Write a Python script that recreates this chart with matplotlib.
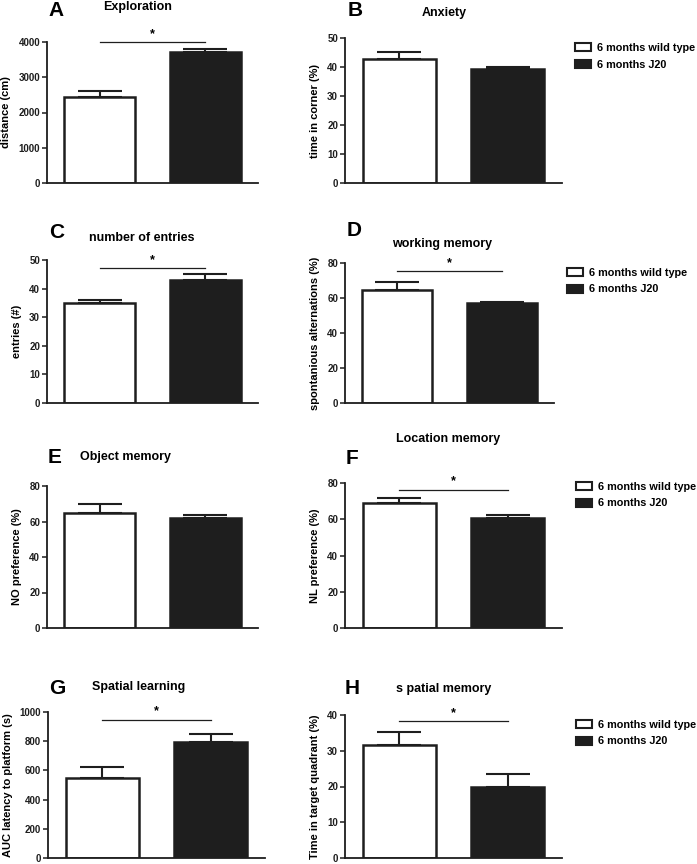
import matplotlib
matplotlib.use("Agg")
import matplotlib.pyplot as plt
from matplotlib.patches import Patch

plt.rcParams['font.family'] = ['Liberation Sans', 'DejaVu Sans']
plt.rcParams['font.weight'] = 'bold'

# ---------------- data ----------------
groups = ['6 months wild type', '6 months J20']
letters = ['A', 'B', 'C', 'D', 'E', 'F', 'G', 'H']
titles = ['Exploration', 'Anxiety', 'number of entries', 'working memory',
          'Object memory', 'Location memory', 'Spatial learning', 's patial memory']
ylabels = ['distance (cm)', 'time in corner (%)', 'entries (#)',
           'spontanious alternations (%)', 'NO preference (%)', 'NL preference (%)',
           'AUC latency to platform (s)', 'Time in target quadrant (%)']
mean_wt = [2440, 42.7, 35.1, 64.5, 64.9, 68.9, 548, 31.6]
mean_j20 = [3716, 39.3, 43.0, 56.9, 62.0, 60.6, 792, 19.8]
sem_wt = [170, 2.4, 0.8, 4.7, 4.7, 2.8, 72, 3.7]
sem_j20 = [77, 0.8, 2.1, 0.7, 1.6, 1.7, 59, 3.6]
ymax = [4000, 50, 50, 80, 80, 80, 1000, 40]
ystep = [1000, 10, 10, 20, 20, 20, 200, 10]
sig_level = [4000, None, 47.1, 75.4, None, 76.3, 947, 38.3]

W, H = 697, 864
fig = plt.figure(figsize=(W / 100, H / 100), dpi=100)

# axes boxes in pixels: left, top, right, bottom
boxes = [(47, 42, 258, 183), (345, 38, 562, 183),
         (47, 260, 258, 403), (345, 263, 554, 403),
         (47, 486, 258, 628), (345, 483, 562, 628),
         (48, 712, 265, 858), (345, 715, 562, 858)]
letter_pos = [(56, 10), (355, 10), (57, 232), (354, 231),
              (55, 457), (352, 458), (57, 689), (352, 689)]
title_pos = [(138, 7), (444, 13), (142, 238), (442, 244),
             (125, 457), (448, 439), (139, 687), (444, 689)]
legend_pos = [(575, 43), (567, 268), (576, 482), (576, 720)]

black = '#1e1e1e'
for i in range(8):
    l, t, r, b = boxes[i]
    ax = fig.add_axes([l / W, 1 - b / H, (r - l) / W, (b - t) / H])
    x = [0, 1]
    ax.bar(x, [mean_wt[i], mean_j20[i]], width=0.67,
           color=['white', black], edgecolor=black, linewidth=1.8, zorder=2)
    ax.errorbar(x, [mean_wt[i], mean_j20[i]],
                yerr=[[0, 0], [sem_wt[i], sem_j20[i]]],
                fmt='none', ecolor=black, elinewidth=1.5, capsize=16,
                capthick=1.5, zorder=1)
    ax.set_xlim(-0.5, 1.5)
    ax.set_ylim(0, ymax[i])
    ax.set_yticks(list(range(0, ymax[i] + 1, ystep[i])))
    ax.set_xticks([])
    for s in ['top', 'right']:
        ax.spines[s].set_visible(False)
    for s in ['left', 'bottom']:
        ax.spines[s].set_linewidth(1.3)
        ax.spines[s].set_color(black)
    ax.tick_params(axis='y', direction='out', length=3.5, width=1.1,
                   labelsize=7, pad=1.5, colors=black)
    ax.set_ylabel(ylabels[i], fontsize=8, fontweight='bold', labelpad=5)
    if sig_level[i] is not None:
        ax.plot([0, 1], [sig_level[i], sig_level[i]], color=black,
                linewidth=0.9, clip_on=False)
        ax.text(0.5, sig_level[i] + ymax[i] * 0.015, '*', ha='center',
                va='bottom', fontsize=9, fontweight='bold')
    lx, ly = letter_pos[i]
    fig.text(lx / W, 1 - ly / H, letters[i], fontsize=15, fontweight='bold',
             ha='center', va='center')
    tx, ty = title_pos[i]
    fig.text(tx / W, 1 - ty / H, titles[i], fontsize=9, fontweight='bold',
             ha='center', va='center')

handles = [Patch(facecolor='white', edgecolor=black, linewidth=1.5),
           Patch(facecolor=black, edgecolor=black, linewidth=1.5)]
for (px, py) in legend_pos:
    fig.legend(handles, groups, loc='upper left',
               bbox_to_anchor=(px / W, 1 - py / H), frameon=False,
               fontsize=7.8, handlelength=1.5, handleheight=0.8,
               handletextpad=0.5, labelspacing=0.6, borderpad=0,
               borderaxespad=0)

fig.savefig('out.png', dpi=100)
